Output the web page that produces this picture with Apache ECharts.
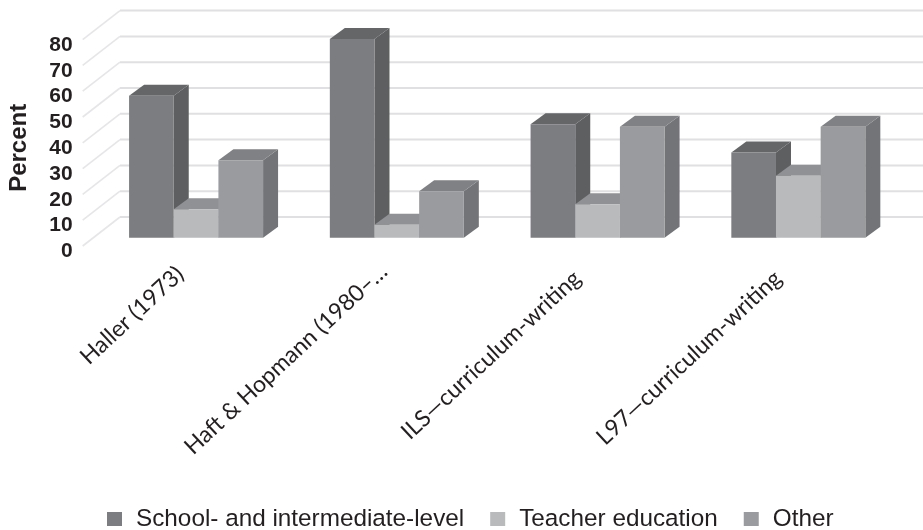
<!DOCTYPE html>
<html>
<head>
<meta charset="utf-8">
<style>html,body{margin:0;padding:0;background:#fff}#c{width:923px;height:530px}</style>
<script src="https://cdn.jsdelivr.net/npm/echarts@6/dist/echarts.min.js"></script>
</head>
<body>
<div id="c"></div>
<script>
const categories = ['Haller (1973)', 'Haft & Hopmann (1980–…', 'ILS—curriculum-writing', 'L97—curriculum-writing'];
const schoolLevel = [55, 77, 44, 33];
const teacherEducation = [11, 5, 13, 24];
const otherShare = [30, 18, 43, 43];
const yTicks = [0, 10, 20, 30, 40, 50, 60, 70, 80];

// Depth of the pseudo-3D scene, in pixels
const WALL_DX = 37.3, WALL_DY = -29;
const FRONT_DX = 13, FRONT_DY = -8.3;
const BAR_DX = 15, BAR_DY = -11;
const BAR_SHARE = 0.2225;

const palette = [
  { front: '#7c7d80', side: '#5e5f61', top: '#656668' },
  { front: '#b9babc', side: '#8f9093', top: '#909194' },
  { front: '#9a9b9e', side: '#737477', top: '#808184' }
];

function wallItem(params, api) {
  const cs = params.coordSys;
  const y = api.coord([0, api.value(1)])[1];
  const line = { stroke: '#e0e0e2', lineWidth: 2, fill: null };
  return {
    type: 'group',
    children: [
      { type: 'line', shape: { x1: cs.x, y1: y, x2: cs.x + WALL_DX, y2: y + WALL_DY }, style: { stroke: '#e6e6e8', lineWidth: 1.6 } },
      { type: 'line', shape: { x1: cs.x + WALL_DX, y1: y + WALL_DY, x2: cs.x + cs.width + WALL_DX, y2: y + WALL_DY }, style: line }
    ]
  };
}

function barRenderer(index) {
  return function (params, api) {
    const w = api.size([1, 0])[0] * BAR_SHARE;
    const top = api.coord([api.value(0), api.value(1)]);
    const base = api.coord([api.value(0), 0]);
    const l = top[0] + FRONT_DX + (index - 1.5) * w;
    const r = l + w;
    const t = top[1] + FRONT_DY;
    const b = base[1] + FRONT_DY;
    const c = palette[index];
    const poly = (points, fill) => ({ type: 'polygon', shape: { points }, style: { fill } });
    return {
      type: 'group',
      children: [
        poly([[r, t], [r + BAR_DX, t + BAR_DY], [r + BAR_DX, b + BAR_DY], [r, b]], c.side),
        poly([[l, t], [l + BAR_DX, t + BAR_DY], [r + BAR_DX, t + BAR_DY], [r, t]], c.top),
        poly([[l, t], [r, t], [r, b], [l, b]], c.front)
      ]
    };
  };
}

const toPoints = values => values.map((v, i) => [i, v]);
const barSeries = (name, values, index) => ({
  name,
  type: 'custom',
  coordinateSystem: 'cartesian2d',
  renderItem: barRenderer(index),
  data: toPoints(values),
  itemStyle: { color: palette[index].front },
  clip: false,
  silent: true,
  z: 3
});

// Category labels sit slightly further back along their slant on some bands
const labelFont = { fontFamily: 'Lato, sans-serif', fontSize: 23, color: '#231f20' };
const labelStyles = ['near', 'flush', 'far', 'far'];

const chart = echarts.init(document.getElementById('c'), null, { renderer: 'canvas' });
chart.setOption({
  animation: false,
  backgroundColor: '#fff',
  grid: { left: 82.7, top: 39.6, width: 803, height: 206.4, containLabel: false, outerBoundsMode: 'none' },
  legend: {
    left: 107,
    top: 507,
    icon: 'rect',
    itemWidth: 15,
    itemHeight: 14,
    itemGap: 26,
    padding: 0,
    textStyle: { fontFamily: '"Liberation Sans", Arial, sans-serif', fontSize: 24.3, color: '#231f20', padding: [0, 0, 0, 9] },
    data: ['School- and intermediate-level', 'Teacher education', 'Other']
  },
  xAxis: {
    type: 'category',
    data: categories,
    axisLine: { show: false },
    axisTick: { show: false },
    axisLabel: {
      rotate: 43,
      interval: 0,
      margin: 22,
      ...labelFont,
      formatter: (value, i) => `{${labelStyles[i]}|${value}}`,
      rich: {
        flush: { ...labelFont },
        near: { ...labelFont, padding: [0, 4, 0, 0] },
        far: { ...labelFont, padding: [0, 10, 0, 0] }
      }
    }
  },
  yAxis: {
    type: 'value',
    min: 0,
    max: 80,
    interval: 10,
    name: 'Percent',
    nameLocation: 'middle',
    nameGap: 51,
    nameRotate: 90,
    nameTextStyle: { fontFamily: '"Liberation Sans", Arial, sans-serif', fontWeight: 'bold', fontSize: 24, color: '#231f20', padding: [0, 10, 0, 0] },
    axisLine: { show: false },
    axisTick: { show: false },
    splitLine: { show: false },
    axisLabel: {
      margin: 10,
      verticalAlign: 'top',
      lineHeight: 11,
      fontFamily: '"Liberation Sans", Arial, sans-serif',
      fontWeight: 'bold',
      fontSize: 21,
      color: '#231f20'
    }
  },
  series: [
    {
      type: 'custom',
      coordinateSystem: 'cartesian2d',
      renderItem: wallItem,
      data: yTicks.map(v => [0, v]),
      clip: false,
      silent: true,
      z: 1
    },
    barSeries('School- and intermediate-level', schoolLevel, 0),
    barSeries('Teacher education', teacherEducation, 1),
    barSeries('Other', otherShare, 2)
  ]
});
</script>
</body>
</html>
